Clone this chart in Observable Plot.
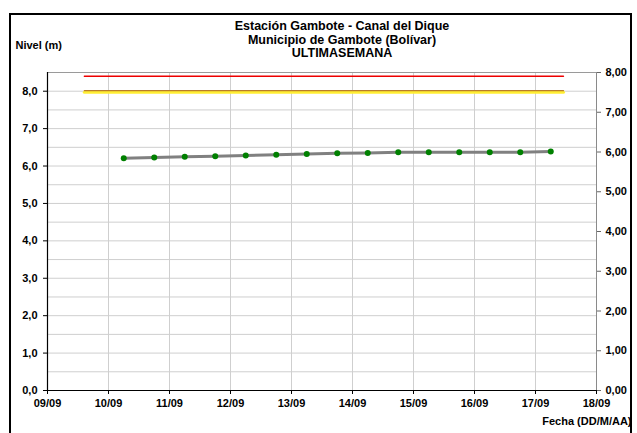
<!DOCTYPE html>
<html>
<head>
<meta charset="utf-8">
<script src="https://cdn.jsdelivr.net/npm/d3@7"></script>
<script src="https://cdn.jsdelivr.net/npm/@observablehq/plot@0.6"></script>
<style>
  body { margin: 0; overflow: hidden; background: #fff; }
  #wrap { position: relative; width: 637px; height: 433px; overflow: hidden; background: #fff; }
  #border { position: absolute; left: 9px; top: 13px; width: 623px; height: 440px; border: 2px solid #000; box-sizing: border-box; }
  #chart { position: absolute; left: 0; top: 0; }
  #chart svg text { font-family: "Liberation Sans", Arial, sans-serif; font-weight: bold; }
</style>
</head>
<body>
<div id="wrap"><div id="border"></div><div id="chart"></div></div>
<script>
// ---- data ----
const fechas = [
  "2023-09-10T06:00Z", "2023-09-10T18:00Z",
  "2023-09-11T06:00Z", "2023-09-11T18:00Z",
  "2023-09-12T06:00Z", "2023-09-12T18:00Z",
  "2023-09-13T06:00Z", "2023-09-13T18:00Z",
  "2023-09-14T06:00Z", "2023-09-14T18:00Z",
  "2023-09-15T06:00Z", "2023-09-15T18:00Z",
  "2023-09-16T06:00Z", "2023-09-16T18:00Z",
  "2023-09-17T06:00Z"
];
const niveles = [6.21, 6.23, 6.25, 6.26, 6.28, 6.30, 6.32, 6.34, 6.35, 6.37, 6.37, 6.37, 6.37, 6.37, 6.39];

const diasEje = ["2023-09-09","2023-09-10","2023-09-11","2023-09-12","2023-09-13",
                 "2023-09-14","2023-09-15","2023-09-16","2023-09-17","2023-09-18"];
const umbralFechas = ["2023-09-09T14:30Z", "2023-09-17T11:00Z"];
const umbralRojo = 8.4;
const umbralAmarillo = 8.0;

const ticksIzq = [0, 1, 2, 3, 4, 5, 6, 7, 8];
const ticksDer = [0, 1, 2, 3, 4, 5, 6, 7, 8];
const maxIzq = 8.5, maxDer = 8;

const titulo = ["Estación Gambote - Canal del Dique", "Municipio de Gambote (Bolívar)", "ULTIMASEMANA"];
const etiquetaY = "Nivel (m)";
const etiquetaX = "Fecha (DD/M/AA)";

// ---- build ----
const data = fechas.map((f, i) => ({fecha: new Date(f), nivel: niveles[i]}));
const dias = diasEje.map(d => new Date(d + "T00:00Z"));
const rojo = umbralFechas.map(f => ({fecha: new Date(f), v: umbralRojo}));
const amarillo = umbralFechas.map(f => ({fecha: new Date(f), v: umbralAmarillo}));
const gridVals = d3.range(0.5, maxIzq, 0.5);
const fmt1 = d => d.toFixed(1).replace(".", ",");
const derPos = ticksDer.map(v => v * maxIzq / maxDer);

const plot = Plot.plot({
  width: 637, height: 433,
  marginLeft: 47, marginRight: 41, marginTop: 72, marginBottom: 43,
  style: {fontSize: "11px", background: "transparent", color: "#000"},
  x: {type: "utc", domain: [dias[0], dias[dias.length - 1]]},
  y: {domain: [0, maxIzq]},
  marks: [
    Plot.gridY(gridVals, {stroke: "#cfcfcf", strokeOpacity: 1}),
    Plot.gridX(dias, {stroke: "#cfcfcf", strokeOpacity: 1}),
    Plot.ruleY([maxIzq], {stroke: "#9a9a9a"}),
    Plot.ruleX([dias[dias.length - 1]], {stroke: "#8a8a8a"}),
    Plot.line(amarillo, {x: "fecha", y: "v", stroke: "#ffee33", strokeWidth: 3, dy: 1}),
    Plot.line(amarillo, {x: "fecha", y: "v", stroke: "#b87c2a", strokeWidth: 1.3, dy: -0.5}),
    Plot.line(rojo, {x: "fecha", y: "v", stroke: "#ee0000", strokeWidth: 1.4}),
    Plot.line(data, {x: "fecha", y: "nivel", stroke: "#808080", strokeWidth: 3}),
    Plot.dot(data, {x: "fecha", y: "nivel", fill: "#008000", r: 3}),
    Plot.axisY(ticksIzq, {anchor: "left", tickFormat: fmt1, tickSize: 4, tickPadding: 6, label: null}),
    Plot.axisY(derPos, {anchor: "right", tickFormat: d => (d * maxDer / maxIzq).toFixed(2).replace(".", ","), tickSize: 4, tickPadding: 5, label: null, stroke: "#666"}),
    Plot.axisX(dias, {anchor: "bottom", tickFormat: d3.utcFormat("%d/%m"), tickSize: 4, tickPadding: 5, label: null}),
    Plot.ruleX([dias[0]], {stroke: "#000", strokeWidth: 1.2}),
    Plot.ruleY([0], {stroke: "#000", strokeWidth: 1.2}),
    Plot.text([titulo[0]], {frameAnchor: "top", text: d => d, dx: 20, dy: -47, lineAnchor: "middle", fontSize: 12.5}),
    Plot.text([titulo[1]], {frameAnchor: "top", text: d => d, dx: 20, dy: -33, lineAnchor: "middle", fontSize: 12.5}),
    Plot.text([titulo[2]], {frameAnchor: "top", text: d => d, dx: 20, dy: -20, lineAnchor: "middle", fontSize: 12.5}),
    Plot.text([etiquetaY], {frameAnchor: "top-left", text: d => d, dx: -32, dy: -27, lineAnchor: "middle", textAnchor: "start", fontSize: 11}),
    Plot.text([etiquetaX], {frameAnchor: "bottom-right", text: d => d, dx: 35, dy: 31, lineAnchor: "middle", textAnchor: "end", fontSize: 11})
  ]
});
document.getElementById("chart").appendChild(plot);
</script>
</body>
</html>
